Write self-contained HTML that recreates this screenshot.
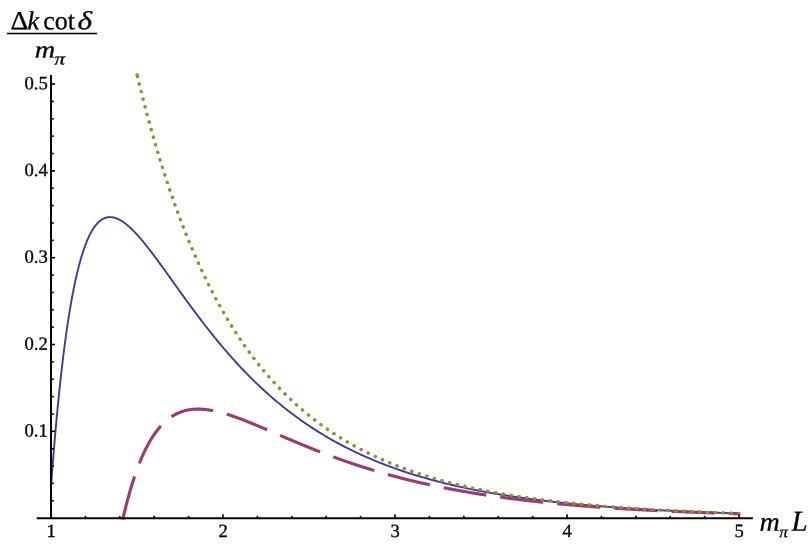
<!DOCTYPE html>
<html><head><meta charset="utf-8"><title>plot</title>
<style>
html,body{margin:0;padding:0;background:#fff;}
body{width:811px;height:545px;overflow:hidden;font-family:"Liberation Serif",serif;}
svg{display:block;will-change:transform}
svg text{font-family:"Liberation Serif",serif;fill:#000;text-rendering:geometricPrecision}
</style></head><body>
<svg width="811" height="545" viewBox="0 0 811 545">
<rect width="811" height="545" fill="#fff"/>
<defs><clipPath id="pc"><rect x="36" y="60" width="720" height="462"/></clipPath></defs>
<g clip-path="url(#pc)" fill="none">
<path d="M51.20,484.00 L51.46,480.52 L51.72,477.08 L51.98,473.68 L52.23,470.32 L52.49,466.99 L52.75,463.69 L53.01,460.43 L53.27,457.21 L53.53,454.02 L53.79,450.86 L54.05,447.74 L54.30,444.65 L54.56,441.60 L54.82,438.58 L55.08,435.59 L55.34,432.63 L55.60,429.71 L55.86,426.82 L56.11,423.95 L56.37,421.12 L56.63,418.32 L56.89,415.56 L57.15,412.82 L57.41,410.11 L57.67,407.43 L57.92,404.78 L58.18,402.15 L58.44,399.56 L58.70,397.00 L58.96,394.46 L59.22,391.95 L59.48,389.47 L59.74,387.02 L59.99,384.59 L60.25,382.19 L60.51,379.82 L60.77,377.47 L61.03,375.15 L61.29,372.86 L61.55,370.59 L61.80,368.34 L62.06,366.12 L62.32,363.93 L62.58,361.76 L62.84,359.62 L63.10,357.50 L63.36,355.40 L63.62,353.33 L63.87,351.28 L64.13,349.25 L64.39,347.25 L64.65,345.26 L64.91,343.31 L65.17,341.37 L65.43,339.46 L65.68,337.57 L65.94,335.70 L66.20,333.85 L66.46,332.02 L66.72,330.22 L66.98,328.43 L67.24,326.67 L67.49,324.93 L67.75,323.20 L68.01,321.50 L68.27,319.82 L68.53,318.16 L68.79,316.51 L69.05,314.89 L69.31,313.29 L69.56,311.70 L69.82,310.13 L70.08,308.59 L70.34,307.06 L70.60,305.55 L70.86,304.06 L71.12,302.58 L71.37,301.13 L71.63,299.69 L71.89,298.27 L72.15,296.87 L72.41,295.48 L72.67,294.11 L72.93,292.76 L73.18,291.43 L73.44,290.11 L73.70,288.81 L73.96,287.52 L74.22,286.25 L74.48,285.00 L74.74,283.76 L75.00,282.54 L75.25,281.34 L75.51,280.15 L75.77,278.97 L76.03,277.81 L76.29,276.67 L76.55,275.54 L76.81,274.42 L77.06,273.32 L77.32,272.24 L77.58,271.17 L77.84,270.11 L78.10,269.07 L78.36,268.04 L78.62,267.03 L78.88,266.02 L79.13,265.04 L79.39,264.06 L79.65,263.10 L79.91,262.16 L80.17,261.22 L80.43,260.30 L80.69,259.39 L80.94,258.50 L81.20,257.62 L81.46,256.75 L81.72,255.89 L81.98,255.04 L82.24,254.21 L82.50,253.39 L82.75,252.58 L83.01,251.79 L83.27,251.00 L83.53,250.23 L83.79,249.47 L84.05,248.72 L84.31,247.98 L84.57,247.25 L84.82,246.53 L85.08,245.83 L85.34,245.13 L85.60,244.45 L85.86,243.78 L86.12,243.11 L86.38,242.46 L86.63,241.82 L86.89,241.19 L87.15,240.57 L87.41,239.96 L87.67,239.36 L87.93,238.77 L88.19,238.19 L88.45,237.62 L88.70,237.06 L88.96,236.51 L89.22,235.97 L89.48,235.44 L89.74,234.91 L90.00,234.40 L90.26,233.90 L90.51,233.40 L90.77,232.92 L91.03,232.44 L91.29,231.97 L91.55,231.51 L91.81,231.06 L92.07,230.62 L92.32,230.19 L92.58,229.76 L92.84,229.35 L93.10,228.94 L93.36,228.54 L93.62,228.15 L93.88,227.77 L94.14,227.39 L94.39,227.02 L94.65,226.66 L94.91,226.31 L95.17,225.97 L95.43,225.63 L95.69,225.30 L95.95,224.98 L96.20,224.67 L96.46,224.36 L96.72,224.06 L96.98,223.77 L97.24,223.49 L97.50,223.21 L97.76,222.94 L98.02,222.68 L98.27,222.42 L98.53,222.17 L98.79,221.93 L99.05,221.69 L99.31,221.46 L99.57,221.24 L99.83,221.02 L100.08,220.81 L100.34,220.61 L100.60,220.41 L100.86,220.22 L101.12,220.04 L101.38,219.86 L101.64,219.69 L101.89,219.52 L102.15,219.36 L102.41,219.21 L102.67,219.06 L102.93,218.92 L103.19,218.78 L103.45,218.65 L103.71,218.52 L103.96,218.40 L104.22,218.29 L104.48,218.18 L104.74,218.08 L105.00,217.98 L105.26,217.89 L105.52,217.80 L105.77,217.72 L106.03,217.65 L106.29,217.57 L106.55,217.51 L106.81,217.45 L107.07,217.39 L107.33,217.34 L107.58,217.29 L107.84,217.25 L108.10,217.22 L108.36,217.18 L108.62,217.16 L108.88,217.14 L109.14,217.12 L109.40,217.10 L109.65,217.10 L109.91,217.09 L110.17,217.09 L110.43,217.10 L110.69,217.11 L110.95,217.12 L111.21,217.14 L111.46,217.16 L111.72,217.19 L111.98,217.22 L112.24,217.25 L112.50,217.29 L112.76,217.33 L113.02,217.38 L113.28,217.43 L113.53,217.49 L113.79,217.55 L114.05,217.61 L114.31,217.67 L114.57,217.74 L114.83,217.82 L115.09,217.90 L115.34,217.98 L115.60,218.06 L115.86,218.15 L116.12,218.24 L116.38,218.34 L116.64,218.44 L116.90,218.54 L117.15,218.64 L117.41,218.75 L117.67,218.87 L117.93,218.98 L118.19,219.10 L118.45,219.22 L118.71,219.35 L118.97,219.48 L119.22,219.61 L119.48,219.74 L119.74,219.88 L120.00,220.02 L120.26,220.17 L120.52,220.31 L120.78,220.46 L121.03,220.62 L121.29,220.77 L121.55,220.93 L121.81,221.09 L122.07,221.26 L122.33,221.42 L122.59,221.59 L122.85,221.77 L123.10,221.94 L123.36,222.12 L123.62,222.30 L123.88,222.48 L124.14,222.67 L124.40,222.86 L124.66,223.05 L124.91,223.24 L125.17,223.43 L125.43,223.63 L125.69,223.83 L125.95,224.04 L126.21,224.24 L126.47,224.45 L126.72,224.66 L126.98,224.87 L127.24,225.08 L127.50,225.30 L127.76,225.52 L128.02,225.74 L128.28,225.96 L128.54,226.19 L128.79,226.42 L129.05,226.65 L129.31,226.88 L129.57,227.11 L129.83,227.35 L130.09,227.58 L130.35,227.82 L130.60,228.06 L130.86,228.31 L131.12,228.55 L131.38,228.80 L131.64,229.05 L131.90,229.30 L132.16,229.55 L132.42,229.81 L132.67,230.06 L132.93,230.32 L133.19,230.58 L133.45,230.84 L133.71,231.11 L133.97,231.37 L134.23,231.64 L134.48,231.91 L134.74,232.17 L135.00,232.45 L135.26,232.72 L135.52,232.99 L135.78,233.27 L136.04,233.55 L136.29,233.83 L136.55,234.11 L136.81,234.39 L137.07,234.67 L137.33,234.96 L137.59,235.24 L137.85,235.53 L138.11,235.82 L138.36,236.11 L138.62,236.40 L138.88,236.69 L139.14,236.99 L139.40,237.28 L139.66,237.58 L139.92,237.88 L140.17,238.18 L140.43,238.48 L140.69,238.78 L140.95,239.08 L141.21,239.39 L141.47,239.69 L141.73,240.00 L141.98,240.31 L142.24,240.61 L142.50,240.92 L142.76,241.23 L143.02,241.55 L143.28,241.86 L143.54,242.17 L143.80,242.49 L144.05,242.80 L144.31,243.12 L144.57,243.44 L144.83,243.76 L145.09,244.08 L145.35,244.40 L145.61,244.72 L145.86,245.04 L146.12,245.37 L146.38,245.69 L146.64,246.02 L146.90,246.34 L147.16,246.67 L147.42,247.00 L147.68,247.33 L147.93,247.65 L148.19,247.98 L148.45,248.32 L148.71,248.65 L148.97,248.98 L149.23,249.31 L149.49,249.65 L149.74,249.98 L150.00,250.32 L150.26,250.65 L150.52,250.99 L150.78,251.33 L151.04,251.67 L151.30,252.00 L151.55,252.34 L151.81,252.68 L152.07,253.03 L152.33,253.37 L152.59,253.71 L152.85,254.05 L153.11,254.39 L153.37,254.74 L153.62,255.08 L153.88,255.43 L154.14,255.77 L154.40,256.12 L155.57,257.69 L156.74,259.27 L157.92,260.86 L159.09,262.46 L160.26,264.07 L161.43,265.68 L162.60,267.30 L163.78,268.93 L164.95,270.55 L166.12,272.18 L167.29,273.82 L168.46,275.46 L169.64,277.09 L170.81,278.73 L171.98,280.37 L173.15,282.01 L174.32,283.65 L175.49,285.29 L176.67,286.93 L177.84,288.57 L179.01,290.20 L180.18,291.83 L181.35,293.46 L182.53,295.09 L183.70,296.71 L184.87,298.33 L186.04,299.94 L187.21,301.55 L188.39,303.16 L189.56,304.76 L190.73,306.35 L191.90,307.94 L193.07,309.52 L194.25,311.10 L195.42,312.67 L196.59,314.23 L197.76,315.79 L198.93,317.34 L200.11,318.89 L201.28,320.43 L202.45,321.96 L203.62,323.48 L204.79,324.99 L205.97,326.50 L207.14,328.00 L208.31,329.49 L209.48,330.98 L210.65,332.45 L211.83,333.92 L213.00,335.38 L214.17,336.83 L215.34,338.27 L216.51,339.71 L217.68,341.13 L218.86,342.55 L220.03,343.96 L221.20,345.36 L222.37,346.75 L223.54,348.13 L224.72,349.50 L225.89,350.87 L227.06,352.22 L228.23,353.57 L229.40,354.90 L230.58,356.23 L231.75,357.55 L232.92,358.86 L234.09,360.16 L235.26,361.46 L236.44,362.74 L237.61,364.01 L238.78,365.28 L239.95,366.54 L241.12,367.78 L242.30,369.02 L243.47,370.25 L244.64,371.47 L245.81,372.69 L246.98,373.89 L248.16,375.08 L249.33,376.27 L250.50,377.44 L251.67,378.61 L252.84,379.77 L254.02,380.92 L255.19,382.06 L256.36,383.19 L257.53,384.32 L258.70,385.43 L259.87,386.54 L261.05,387.64 L262.22,388.73 L263.39,389.81 L264.56,390.88 L265.73,391.95 L266.91,393.00 L268.08,394.05 L269.25,395.09 L270.42,396.12 L271.59,397.14 L272.77,398.16 L273.94,399.16 L275.11,400.16 L276.28,401.15 L277.45,402.14 L278.63,403.11 L279.80,404.08 L280.97,405.04 L282.14,405.99 L283.31,406.93 L284.49,407.87 L285.66,408.80 L286.83,409.72 L288.00,410.63 L289.17,411.53 L290.35,412.43 L291.52,413.32 L292.69,414.21 L293.86,415.08 L295.03,415.95 L296.21,416.81 L297.38,417.67 L298.55,418.51 L299.72,419.35 L300.89,420.19 L302.06,421.01 L303.24,421.83 L304.41,422.65 L305.58,423.45 L306.75,424.25 L307.92,425.04 L309.10,425.83 L310.27,426.61 L311.44,427.38 L312.61,428.15 L313.78,428.91 L314.96,429.66 L316.13,430.41 L317.30,431.15 L318.47,431.88 L319.64,432.61 L320.82,433.33 L321.99,434.05 L323.16,434.76 L324.33,435.46 L325.50,436.16 L326.68,436.85 L327.85,437.53 L329.02,438.21 L330.19,438.89 L331.36,439.56 L332.54,440.22 L333.71,440.88 L334.88,441.53 L336.05,442.17 L337.22,442.82 L338.40,443.45 L339.57,444.08 L340.74,444.70 L341.91,445.32 L343.08,445.94 L344.25,446.54 L345.43,447.15 L346.60,447.75 L347.77,448.34 L348.94,448.93 L350.11,449.51 L351.29,450.09 L352.46,450.66 L353.63,451.23 L354.80,451.79 L355.97,452.35 L357.15,452.90 L358.32,453.45 L359.49,453.99 L360.66,454.53 L361.83,455.07 L363.01,455.60 L364.18,456.12 L365.35,456.64 L366.52,457.16 L367.69,457.67 L368.87,458.18 L370.04,458.68 L371.21,459.18 L372.38,459.67 L373.55,460.17 L374.73,460.65 L375.90,461.13 L377.07,461.61 L378.24,462.08 L379.41,462.55 L380.59,463.02 L381.76,463.48 L382.93,463.94 L384.10,464.39 L385.27,464.84 L386.44,465.29 L387.62,465.73 L388.79,466.17 L389.96,466.60 L391.13,467.03 L392.30,467.46 L393.48,467.88 L394.65,468.30 L395.82,468.72 L396.99,469.13 L398.16,469.54 L399.34,469.95 L400.51,470.35 L401.68,470.75 L402.85,471.14 L404.02,471.53 L405.20,471.92 L406.37,472.31 L407.54,472.69 L408.71,473.07 L409.88,473.44 L411.06,473.81 L412.23,474.18 L413.40,474.55 L414.57,474.91 L415.74,475.27 L416.92,475.62 L418.09,475.98 L419.26,476.33 L420.43,476.68 L421.60,477.02 L422.78,477.36 L423.95,477.70 L425.12,478.03 L426.29,478.37 L427.46,478.70 L428.63,479.02 L429.81,479.35 L430.98,479.67 L432.15,479.99 L433.32,480.30 L434.49,480.62 L435.67,480.93 L436.84,481.23 L438.01,481.54 L439.18,481.84 L440.35,482.14 L441.53,482.44 L442.70,482.73 L443.87,483.03 L445.04,483.32 L446.21,483.60 L447.39,483.89 L448.56,484.17 L449.73,484.45 L450.90,484.73 L452.07,485.00 L453.25,485.28 L454.42,485.55 L455.59,485.81 L456.76,486.08 L457.93,486.34 L459.11,486.61 L460.28,486.87 L461.45,487.12 L462.62,487.38 L463.79,487.63 L464.97,487.88 L466.14,488.13 L467.31,488.38 L468.48,488.62 L469.65,488.86 L470.82,489.10 L472.00,489.34 L473.17,489.58 L474.34,489.81 L475.51,490.04 L476.68,490.27 L477.86,490.50 L479.03,490.73 L480.20,490.95 L481.37,491.17 L482.54,491.39 L483.72,491.61 L484.89,491.83 L486.06,492.04 L487.23,492.26 L488.40,492.47 L489.58,492.68 L490.75,492.89 L491.92,493.09 L493.09,493.30 L494.26,493.50 L495.44,493.70 L496.61,493.90 L497.78,494.10 L498.95,494.29 L500.12,494.49 L501.30,494.68 L502.47,494.87 L503.64,495.06 L504.81,495.25 L505.98,495.43 L507.16,495.62 L508.33,495.80 L509.50,495.98 L510.67,496.16 L511.84,496.34 L513.01,496.52 L514.19,496.69 L515.36,496.86 L516.53,497.04 L517.70,497.21 L518.87,497.38 L520.05,497.55 L521.22,497.71 L522.39,497.88 L523.56,498.04 L524.73,498.20 L525.91,498.37 L527.08,498.53 L528.25,498.68 L529.42,498.84 L530.59,499.00 L531.77,499.15 L532.94,499.31 L534.11,499.46 L535.28,499.61 L536.45,499.76 L537.63,499.91 L538.80,500.05 L539.97,500.20 L541.14,500.34 L542.31,500.49 L543.49,500.63 L544.66,500.77 L545.83,500.91 L547.00,501.05 L548.17,501.19 L549.35,501.32 L550.52,501.46 L551.69,501.59 L552.86,501.72 L554.03,501.86 L555.20,501.99 L556.38,502.12 L557.55,502.24 L558.72,502.37 L559.89,502.50 L561.06,502.62 L562.24,502.75 L563.41,502.87 L564.58,502.99 L565.75,503.12 L566.92,503.24 L568.10,503.36 L569.27,503.47 L570.44,503.59 L571.61,503.71 L572.78,503.82 L573.96,503.94 L575.13,504.05 L576.30,504.16 L577.47,504.27 L578.64,504.39 L579.82,504.50 L580.99,504.60 L582.16,504.71 L583.33,504.82 L584.50,504.93 L585.68,505.03 L586.85,505.14 L588.02,505.24 L589.19,505.34 L590.36,505.44 L591.54,505.54 L592.71,505.64 L593.88,505.74 L595.05,505.84 L596.22,505.94 L597.39,506.04 L598.57,506.13 L599.74,506.23 L600.91,506.32 L602.08,506.42 L603.25,506.51 L604.43,506.60 L605.60,506.69 L606.77,506.78 L607.94,506.87 L609.11,506.96 L610.29,507.05 L611.46,507.14 L612.63,507.23 L613.80,507.31 L614.97,507.40 L616.15,507.48 L617.32,507.57 L618.49,507.65 L619.66,507.74 L620.83,507.82 L622.01,507.90 L623.18,507.98 L624.35,508.06 L625.52,508.14 L626.69,508.22 L627.87,508.30 L629.04,508.37 L630.21,508.45 L631.38,508.53 L632.55,508.60 L633.73,508.68 L634.90,508.75 L636.07,508.83 L637.24,508.90 L638.41,508.97 L639.58,509.05 L640.76,509.12 L641.93,509.19 L643.10,509.26 L644.27,509.33 L645.44,509.40 L646.62,509.47 L647.79,509.53 L648.96,509.60 L650.13,509.67 L651.30,509.74 L652.48,509.80 L653.65,509.87 L654.82,509.93 L655.99,510.00 L657.16,510.06 L658.34,510.12 L659.51,510.19 L660.68,510.25 L661.85,510.31 L663.02,510.37 L664.20,510.43 L665.37,510.49 L666.54,510.55 L667.71,510.61 L668.88,510.67 L670.06,510.73 L671.23,510.79 L672.40,510.84 L673.57,510.90 L674.74,510.96 L675.92,511.01 L677.09,511.07 L678.26,511.12 L679.43,511.18 L680.60,511.23 L681.77,511.29 L682.95,511.34 L684.12,511.39 L685.29,511.45 L686.46,511.50 L687.63,511.55 L688.81,511.60 L689.98,511.65 L691.15,511.70 L692.32,511.75 L693.49,511.80 L694.67,511.85 L695.84,511.90 L697.01,511.95 L698.18,512.00 L699.35,512.04 L700.53,512.09 L701.70,512.14 L702.87,512.19 L704.04,512.23 L705.21,512.28 L706.39,512.32 L707.56,512.37 L708.73,512.41 L709.90,512.46 L711.07,512.50 L712.25,512.54 L713.42,512.59 L714.59,512.63 L715.76,512.67 L716.93,512.72 L718.11,512.76 L719.28,512.80 L720.45,512.84 L721.62,512.88 L722.79,512.92 L723.96,512.96 L725.14,513.00 L726.31,513.04 L727.48,513.08 L728.65,513.12 L729.82,513.16 L731.00,513.20 L732.17,513.24 L733.34,513.27 L734.51,513.31 L735.68,513.35 L736.86,513.38 L738.03,513.42 L739.20,513.46" stroke="#3d3d99" stroke-width="1.9" stroke-linejoin="round"/>
<path d="M122.72,519.66 L123.74,515.21 L124.77,510.91 L125.80,506.75 L126.83,502.72 L127.86,498.83 L128.89,495.07 L129.92,491.43 L130.95,487.92 L131.98,484.52 L133.01,481.24 L134.04,478.07 L135.07,475.01 L136.09,472.06 L137.12,469.20 L138.15,466.45 L139.18,463.80 L140.21,461.23 L141.24,458.76 L142.27,456.38 L143.30,454.08 L144.33,451.87 L145.36,449.74 L146.39,447.68 L147.42,445.70 L148.44,443.80 L149.47,441.97 L150.50,440.21 L151.53,438.52 L152.56,436.89 L153.59,435.33 L154.62,433.83 L155.65,432.39 L156.68,431.01 L157.71,429.69 L158.74,428.42 L159.77,427.20 L160.80,426.04 L161.82,424.93 L162.85,423.87 L163.88,422.86 L164.91,421.89 L165.94,420.97 L166.97,420.10 L168.00,419.26 L169.03,418.47 L170.06,417.72 L171.09,417.01 L172.12,416.33 L173.15,415.70 L174.17,415.09 L175.20,414.53 L176.23,413.99 L177.26,413.49 L178.29,413.03 L179.32,412.59 L180.35,412.18 L181.38,411.80 L182.41,411.45 L183.44,411.13 L184.47,410.84 L185.50,410.57 L186.52,410.32 L187.55,410.10 L188.58,409.91 L189.61,409.73 L190.64,409.58 L191.67,409.45 L192.70,409.35 L193.73,409.26 L194.76,409.19 L195.79,409.14 L196.82,409.11 L197.85,409.10 L198.88,409.10 L199.90,409.12 L200.93,409.16 L201.96,409.22 L202.99,409.29 L204.02,409.37 L205.05,409.47 L206.08,409.58 L207.11,409.71 L208.14,409.85 L209.17,410.00 L210.20,410.16 L211.23,410.34 L212.25,410.53 L213.28,410.72 L214.31,410.93 L215.34,411.15 L216.37,411.38 L217.40,411.62 L218.43,411.87 L219.46,412.13 L220.49,412.39 L221.52,412.67 L222.55,412.95 L223.58,413.24 L224.60,413.54 L225.63,413.85 L226.66,414.16 L227.69,414.48 L228.72,414.81 L229.75,415.14 L230.78,415.48 L231.81,415.82 L232.84,416.17 L233.87,416.52 L234.90,416.88 L235.93,417.25 L236.96,417.62 L237.98,417.99 L239.01,418.37 L240.04,418.75 L241.07,419.14 L242.10,419.53 L243.13,419.93 L244.16,420.32 L245.19,420.72 L246.22,421.13 L247.25,421.53 L248.28,421.94 L249.31,422.36 L250.33,422.77 L251.36,423.19 L252.39,423.61 L253.42,424.03 L254.45,424.45 L255.48,424.88 L256.51,425.31 L257.54,425.74 L258.57,426.17 L259.60,426.60 L260.63,427.03 L261.66,427.47 L262.68,427.90 L263.71,428.34 L264.74,428.78 L265.77,429.21 L266.80,429.65 L267.83,430.09 L268.86,430.53 L269.89,430.98 L270.92,431.42 L271.95,431.86 L272.98,432.30 L274.01,432.74 L275.04,433.18 L276.06,433.63 L277.09,434.07 L278.12,434.51 L279.15,434.95 L280.18,435.39 L281.21,435.83 L282.24,436.28 L283.27,436.72 L284.30,437.16 L285.33,437.60 L286.36,438.03 L287.39,438.47 L288.41,438.91 L289.44,439.35 L290.47,439.78 L291.50,440.22 L292.53,440.65 L293.56,441.09 L294.59,441.52 L295.62,441.95 L296.65,442.38 L297.68,442.81 L298.71,443.24 L299.74,443.67 L300.76,444.10 L301.79,444.52 L302.82,444.95 L303.85,445.37 L304.88,445.79 L305.91,446.21 L306.94,446.63 L307.97,447.05 L309.00,447.47 L310.03,447.88 L311.06,448.30 L312.09,448.71 L313.12,449.12 L314.14,449.53 L315.17,449.94 L316.20,450.34 L317.23,450.75 L318.26,451.15 L319.29,451.55 L320.32,451.95 L321.35,452.35 L322.38,452.75 L323.41,453.15 L324.44,453.54 L325.47,453.93 L326.49,454.32 L327.52,454.71 L328.55,455.10 L329.58,455.49 L330.61,455.87 L331.64,456.25 L332.67,456.63 L333.70,457.01 L334.73,457.39 L335.76,457.77 L336.79,458.14 L337.82,458.51 L338.85,458.88 L339.87,459.25 L340.90,459.62 L341.93,459.98 L342.96,460.35 L343.99,460.71 L345.02,461.07 L346.05,461.43 L347.08,461.78 L348.11,462.14 L349.14,462.49 L350.17,462.84 L351.20,463.19 L352.22,463.54 L353.25,463.88 L354.28,464.23 L355.31,464.57 L356.34,464.91 L357.37,465.25 L358.40,465.58 L359.43,465.92 L360.46,466.25 L361.49,466.58 L362.52,466.91 L363.55,467.24 L364.57,467.57 L365.60,467.89 L366.63,468.21 L367.66,468.53 L368.69,468.85 L369.72,469.17 L370.75,469.49 L371.78,469.80 L372.81,470.11 L373.84,470.42 L374.87,470.73 L375.90,471.04 L376.93,471.34 L377.95,471.65 L378.98,471.95 L380.01,472.25 L381.04,472.55 L382.07,472.84 L383.10,473.14 L384.13,473.43 L385.16,473.72 L386.19,474.01 L387.22,474.30 L388.25,474.58 L389.28,474.87 L390.30,475.15 L391.33,475.43 L392.36,475.71 L393.39,475.99 L394.42,476.27 L395.45,476.54 L396.48,476.81 L397.51,477.08 L398.54,477.35 L399.57,477.62 L400.60,477.89 L401.63,478.15 L402.65,478.42 L403.68,478.68 L404.71,478.94 L405.74,479.20 L406.77,479.45 L407.80,479.71 L408.83,479.96 L409.86,480.22 L410.89,480.47 L411.92,480.71 L412.95,480.96 L413.98,481.21 L415.01,481.45 L416.03,481.70 L417.06,481.94 L418.09,482.18 L419.12,482.42 L420.15,482.65 L421.18,482.89 L422.21,483.12 L423.24,483.35 L424.27,483.59 L425.30,483.82 L426.33,484.04 L427.36,484.27 L428.38,484.50 L429.41,484.72 L430.44,484.94 L431.47,485.16 L432.50,485.38 L433.53,485.60 L434.56,485.82 L435.59,486.03 L436.62,486.25 L437.65,486.46 L438.68,486.67 L439.71,486.88 L440.73,487.09 L441.76,487.30 L442.79,487.50 L443.82,487.71 L444.85,487.91 L445.88,488.11 L446.91,488.32 L447.94,488.52 L448.97,488.71 L450.00,488.91 L451.03,489.11 L452.06,489.30 L453.09,489.49 L454.11,489.69 L455.14,489.88 L456.17,490.07 L457.20,490.25 L458.23,490.44 L459.26,490.63 L460.29,490.81 L461.32,490.99 L462.35,491.18 L463.38,491.36 L464.41,491.54 L465.44,491.72 L466.46,491.89 L467.49,492.07 L468.52,492.24 L469.55,492.42 L470.58,492.59 L471.61,492.76 L472.64,492.93 L473.67,493.10 L474.70,493.27 L475.73,493.44 L476.76,493.60 L477.79,493.77 L478.81,493.93 L479.84,494.10 L480.87,494.26 L481.90,494.42 L482.93,494.58 L483.96,494.74 L484.99,494.89 L486.02,495.05 L487.05,495.21 L488.08,495.36 L489.11,495.51 L490.14,495.67 L491.17,495.82 L492.19,495.97 L493.22,496.12 L494.25,496.27 L495.28,496.41 L496.31,496.56 L497.34,496.70 L498.37,496.85 L499.40,496.99 L500.43,497.13 L501.46,497.28 L502.49,497.42 L503.52,497.56 L504.54,497.70 L505.57,497.83 L506.60,497.97 L507.63,498.11 L508.66,498.24 L509.69,498.38 L510.72,498.51 L511.75,498.64 L512.78,498.77 L513.81,498.90 L514.84,499.03 L515.87,499.16 L516.89,499.29 L517.92,499.42 L518.95,499.54 L519.98,499.67 L521.01,499.79 L522.04,499.92 L523.07,500.04 L524.10,500.16 L525.13,500.28 L526.16,500.40 L527.19,500.52 L528.22,500.64 L529.25,500.76 L530.27,500.88 L531.30,500.99 L532.33,501.11 L533.36,501.22 L534.39,501.34 L535.42,501.45 L536.45,501.56 L537.48,501.68 L538.51,501.79 L539.54,501.90 L540.57,502.01 L541.60,502.11 L542.62,502.22 L543.65,502.33 L544.68,502.44 L545.71,502.54 L546.74,502.65 L547.77,502.75 L548.80,502.86 L549.83,502.96 L550.86,503.06 L551.89,503.16 L552.92,503.26 L553.95,503.36 L554.97,503.46 L556.00,503.56 L557.03,503.66 L558.06,503.76 L559.09,503.86 L560.12,503.95 L561.15,504.05 L562.18,504.14 L563.21,504.24 L564.24,504.33 L565.27,504.42 L566.30,504.52 L567.33,504.61 L568.35,504.70 L569.38,504.79 L570.41,504.88 L571.44,504.97 L572.47,505.06 L573.50,505.15 L574.53,505.23 L575.56,505.32 L576.59,505.41 L577.62,505.49 L578.65,505.58 L579.68,505.66 L580.70,505.75 L581.73,505.83 L582.76,505.91 L583.79,505.99 L584.82,506.08 L585.85,506.16 L586.88,506.24 L587.91,506.32 L588.94,506.40 L589.97,506.48 L591.00,506.56 L592.03,506.63 L593.05,506.71 L594.08,506.79 L595.11,506.86 L596.14,506.94 L597.17,507.02 L598.20,507.09 L599.23,507.16 L600.26,507.24 L601.29,507.31 L602.32,507.38 L603.35,507.46 L604.38,507.53 L605.41,507.60 L606.43,507.67 L607.46,507.74 L608.49,507.81 L609.52,507.88 L610.55,507.95 L611.58,508.02 L612.61,508.09 L613.64,508.15 L614.67,508.22 L615.70,508.29 L616.73,508.35 L617.76,508.42 L618.78,508.48 L619.81,508.55 L620.84,508.61 L621.87,508.68 L622.90,508.74 L623.93,508.80 L624.96,508.87 L625.99,508.93 L627.02,508.99 L628.05,509.05 L629.08,509.11 L630.11,509.17 L631.14,509.23 L632.16,509.29 L633.19,509.35 L634.22,509.41 L635.25,509.47 L636.28,509.53 L637.31,509.59 L638.34,509.64 L639.37,509.70 L640.40,509.76 L641.43,509.81 L642.46,509.87 L643.49,509.92 L644.51,509.98 L645.54,510.03 L646.57,510.09 L647.60,510.14 L648.63,510.19 L649.66,510.25 L650.69,510.30 L651.72,510.35 L652.75,510.41 L653.78,510.46 L654.81,510.51 L655.84,510.56 L656.86,510.61 L657.89,510.66 L658.92,510.71 L659.95,510.76 L660.98,510.81 L662.01,510.86 L663.04,510.91 L664.07,510.96 L665.10,511.00 L666.13,511.05 L667.16,511.10 L668.19,511.15 L669.22,511.19 L670.24,511.24 L671.27,511.28 L672.30,511.33 L673.33,511.38 L674.36,511.42 L675.39,511.47 L676.42,511.51 L677.45,511.55 L678.48,511.60 L679.51,511.64 L680.54,511.69 L681.57,511.73 L682.59,511.77 L683.62,511.81 L684.65,511.86 L685.68,511.90 L686.71,511.94 L687.74,511.98 L688.77,512.02 L689.80,512.06 L690.83,512.10 L691.86,512.14 L692.89,512.18 L693.92,512.22 L694.94,512.26 L695.97,512.30 L697.00,512.34 L698.03,512.38 L699.06,512.42 L700.09,512.45 L701.12,512.49 L702.15,512.53 L703.18,512.57 L704.21,512.60 L705.24,512.64 L706.27,512.68 L707.30,512.71 L708.32,512.75 L709.35,512.79 L710.38,512.82 L711.41,512.86 L712.44,512.89 L713.47,512.93 L714.50,512.96 L715.53,513.00 L716.56,513.03 L717.59,513.06 L718.62,513.10 L719.65,513.13 L720.67,513.16 L721.70,513.20 L722.73,513.23 L723.76,513.26 L724.79,513.29 L725.82,513.33 L726.85,513.36 L727.88,513.39 L728.91,513.42 L729.94,513.45 L730.97,513.48 L732.00,513.51 L733.02,513.55 L734.05,513.58 L735.08,513.61 L736.11,513.64 L737.14,513.67 L738.17,513.70 L739.20,513.72" stroke="#993d71" stroke-width="3.1" stroke-dasharray="44.7 14.08 43.3 14.08 43.3 14.08 43.3 14.08 43.3 14.08 43.3 14.08 43.3 14.08 43.3 14.08 43.3 14.08 43.3 14.08 43.3 14.08 43.3 14.08 43.3 14.08 43.3 14.08" stroke-linejoin="round"/>
<path d="M136.72,73.45 L137.92,78.47 L139.13,83.43 L140.34,88.32 L141.54,93.15 L142.75,97.92 L143.96,102.62 L145.17,107.26 L146.37,111.84 L147.58,116.37 L148.79,120.83 L150.00,125.24 L151.20,129.59 L152.41,133.88 L153.62,138.12 L154.83,142.31 L156.03,146.44 L157.24,150.52 L158.45,154.54 L159.66,158.52 L160.86,162.45 L162.07,166.33 L163.28,170.16 L164.49,173.94 L165.69,177.67 L166.90,181.36 L168.11,185.00 L169.31,188.60 L170.52,192.15 L171.73,195.66 L172.94,199.12 L174.14,202.54 L175.35,205.92 L176.56,209.26 L177.77,212.56 L178.97,215.82 L180.18,219.04 L181.39,222.22 L182.60,225.36 L183.80,228.46 L185.01,231.53 L186.22,234.56 L187.43,237.55 L188.63,240.50 L189.84,243.43 L191.05,246.31 L192.26,249.16 L193.46,251.98 L194.67,254.77 L195.88,257.52 L197.08,260.24 L198.29,262.93 L199.50,265.58 L200.71,268.21 L201.91,270.80 L203.12,273.36 L204.33,275.90 L205.54,278.40 L206.74,280.87 L207.95,283.32 L209.16,285.74 L210.37,288.13 L211.57,290.49 L212.78,292.82 L213.99,295.13 L215.20,297.41 L216.40,299.67 L217.61,301.90 L218.82,304.10 L220.02,306.28 L221.23,308.43 L222.44,310.56 L223.65,312.67 L224.85,314.75 L226.06,316.81 L227.27,318.84 L228.48,320.86 L229.68,322.84 L230.89,324.81 L232.10,326.76 L233.31,328.68 L234.51,330.58 L235.72,332.46 L236.93,334.32 L238.14,336.16 L239.34,337.98 L240.55,339.77 L241.76,341.55 L242.97,343.31 L244.17,345.05 L245.38,346.77 L246.59,348.47 L247.79,350.15 L249.00,351.81 L250.21,353.46 L251.42,355.09 L252.62,356.70 L253.83,358.29 L255.04,359.86 L256.25,361.42 L257.45,362.96 L258.66,364.49 L259.87,365.99 L261.08,367.48 L262.28,368.96 L263.49,370.42 L264.70,371.86 L265.91,373.29 L267.11,374.70 L268.32,376.10 L269.53,377.48 L270.73,378.85 L271.94,380.20 L273.15,381.54 L274.36,382.86 L275.56,384.17 L276.77,385.47 L277.98,386.75 L279.19,388.02 L280.39,389.28 L281.60,390.52 L282.81,391.75 L284.02,392.97 L285.22,394.17 L286.43,395.36 L287.64,396.54 L288.85,397.70 L290.05,398.86 L291.26,400.00 L292.47,401.13 L293.68,402.25 L294.88,403.35 L296.09,404.45 L297.30,405.53 L298.50,406.60 L299.71,407.66 L300.92,408.71 L302.13,409.75 L303.33,410.78 L304.54,411.80 L305.75,412.80 L306.96,413.80 L308.16,414.79 L309.37,415.76 L310.58,416.73 L311.79,417.69 L312.99,418.63 L314.20,419.57 L315.41,420.50 L316.62,421.41 L317.82,422.32 L319.03,423.22 L320.24,424.11 L321.45,424.99 L322.65,425.87 L323.86,426.73 L325.07,427.58 L326.27,428.43 L327.48,429.27 L328.69,430.09 L329.90,430.92 L331.10,431.73 L332.31,432.53 L333.52,433.33 L334.73,434.12 L335.93,434.90 L337.14,435.67 L338.35,436.43 L339.56,437.19 L340.76,437.94 L341.97,438.68 L343.18,439.41 L344.39,440.14 L345.59,440.86 L346.80,441.57 L348.01,442.28 L349.21,442.98 L350.42,443.67 L351.63,444.35 L352.84,445.03 L354.04,445.70 L355.25,446.37 L356.46,447.03 L357.67,447.68 L358.87,448.32 L360.08,448.96 L361.29,449.59 L362.50,450.22 L363.70,450.84 L364.91,451.46 L366.12,452.06 L367.33,452.67 L368.53,453.26 L369.74,453.85 L370.95,454.44 L372.16,455.02 L373.36,455.59 L374.57,456.16 L375.78,456.72 L376.98,457.28 L378.19,457.83 L379.40,458.37 L380.61,458.91 L381.81,459.45 L383.02,459.98 L384.23,460.51 L385.44,461.03 L386.64,461.54 L387.85,462.05 L389.06,462.56 L390.27,463.06 L391.47,463.55 L392.68,464.04 L393.89,464.53 L395.10,465.01 L396.30,465.49 L397.51,465.96 L398.72,466.43 L399.93,466.89 L401.13,467.35 L402.34,467.80 L403.55,468.25 L404.75,468.70 L405.96,469.14 L407.17,469.58 L408.38,470.01 L409.58,470.44 L410.79,470.87 L412.00,471.29 L413.21,471.70 L414.41,472.12 L415.62,472.53 L416.83,472.93 L418.04,473.33 L419.24,473.73 L420.45,474.12 L421.66,474.51 L422.87,474.90 L424.07,475.28 L425.28,475.66 L426.49,476.04 L427.69,476.41 L428.90,476.78 L430.11,477.14 L431.32,477.51 L432.52,477.86 L433.73,478.22 L434.94,478.57 L436.15,478.92 L437.35,479.27 L438.56,479.61 L439.77,479.95 L440.98,480.28 L442.18,480.61 L443.39,480.94 L444.60,481.27 L445.81,481.59 L447.01,481.91 L448.22,482.23 L449.43,482.55 L450.64,482.86 L451.84,483.17 L453.05,483.47 L454.26,483.77 L455.46,484.07 L456.67,484.37 L457.88,484.67 L459.09,484.96 L460.29,485.25 L461.50,485.53 L462.71,485.82 L463.92,486.10 L465.12,486.38 L466.33,486.65 L467.54,486.93 L468.75,487.20 L469.95,487.47 L471.16,487.73 L472.37,488.00 L473.58,488.26 L474.78,488.52 L475.99,488.77 L477.20,489.03 L478.41,489.28 L479.61,489.53 L480.82,489.78 L482.03,490.02 L483.23,490.26 L484.44,490.50 L485.65,490.74 L486.86,490.98 L488.06,491.21 L489.27,491.45 L490.48,491.67 L491.69,491.90 L492.89,492.13 L494.10,492.35 L495.31,492.57 L496.52,492.79 L497.72,493.01 L498.93,493.23 L500.14,493.44 L501.35,493.65 L502.55,493.86 L503.76,494.07 L504.97,494.28 L506.17,494.48 L507.38,494.68 L508.59,494.88 L509.80,495.08 L511.00,495.28 L512.21,495.47 L513.42,495.67 L514.63,495.86 L515.83,496.05 L517.04,496.24 L518.25,496.42 L519.46,496.61 L520.66,496.79 L521.87,496.97 L523.08,497.15 L524.29,497.33 L525.49,497.51 L526.70,497.69 L527.91,497.86 L529.12,498.03 L530.32,498.20 L531.53,498.37 L532.74,498.54 L533.94,498.71 L535.15,498.87 L536.36,499.03 L537.57,499.19 L538.77,499.35 L539.98,499.51 L541.19,499.67 L542.40,499.83 L543.60,499.98 L544.81,500.14 L546.02,500.29 L547.23,500.44 L548.43,500.59 L549.64,500.74 L550.85,500.88 L552.06,501.03 L553.26,501.17 L554.47,501.31 L555.68,501.46 L556.89,501.60 L558.09,501.74 L559.30,501.87 L560.51,502.01 L561.71,502.15 L562.92,502.28 L564.13,502.41 L565.34,502.54 L566.54,502.68 L567.75,502.80 L568.96,502.93 L570.17,503.06 L571.37,503.19 L572.58,503.31 L573.79,503.44 L575.00,503.56 L576.20,503.68 L577.41,503.80 L578.62,503.92 L579.83,504.04 L581.03,504.16 L582.24,504.27 L583.45,504.39 L584.65,504.50 L585.86,504.62 L587.07,504.73 L588.28,504.84 L589.48,504.95 L590.69,505.06 L591.90,505.17 L593.11,505.28 L594.31,505.39 L595.52,505.49 L596.73,505.60 L597.94,505.70 L599.14,505.81 L600.35,505.91 L601.56,506.01 L602.77,506.11 L603.97,506.21 L605.18,506.31 L606.39,506.41 L607.60,506.50 L608.80,506.60 L610.01,506.70 L611.22,506.79 L612.42,506.88 L613.63,506.98 L614.84,507.07 L616.05,507.16 L617.25,507.25 L618.46,507.34 L619.67,507.43 L620.88,507.52 L622.08,507.61 L623.29,507.69 L624.50,507.78 L625.71,507.86 L626.91,507.95 L628.12,508.03 L629.33,508.12 L630.54,508.20 L631.74,508.28 L632.95,508.36 L634.16,508.44 L635.36,508.52 L636.57,508.60 L637.78,508.68 L638.99,508.76 L640.19,508.83 L641.40,508.91 L642.61,508.98 L643.82,509.06 L645.02,509.13 L646.23,509.21 L647.44,509.28 L648.65,509.35 L649.85,509.43 L651.06,509.50 L652.27,509.57 L653.48,509.64 L654.68,509.71 L655.89,509.78 L657.10,509.84 L658.31,509.91 L659.51,509.98 L660.72,510.05 L661.93,510.11 L663.13,510.18 L664.34,510.24 L665.55,510.31 L666.76,510.37 L667.96,510.43 L669.17,510.50 L670.38,510.56 L671.59,510.62 L672.79,510.68 L674.00,510.74 L675.21,510.80 L676.42,510.86 L677.62,510.92 L678.83,510.98 L680.04,511.04 L681.25,511.09 L682.45,511.15 L683.66,511.21 L684.87,511.26 L686.08,511.32 L687.28,511.38 L688.49,511.43 L689.70,511.48 L690.90,511.54 L692.11,511.59 L693.32,511.64 L694.53,511.70 L695.73,511.75 L696.94,511.80 L698.15,511.85 L699.36,511.90 L700.56,511.95 L701.77,512.00 L702.98,512.05 L704.19,512.10 L705.39,512.15 L706.60,512.20 L707.81,512.25 L709.02,512.29 L710.22,512.34 L711.43,512.39 L712.64,512.43 L713.84,512.48 L715.05,512.53 L716.26,512.57 L717.47,512.61 L718.67,512.66 L719.88,512.70 L721.09,512.75 L722.30,512.79 L723.50,512.83 L724.71,512.88 L725.92,512.92 L727.13,512.96 L728.33,513.00 L729.54,513.04 L730.75,513.08 L731.96,513.12 L733.16,513.16 L734.37,513.20 L735.58,513.24 L736.79,513.28 L737.99,513.32 L739.20,513.36" stroke="#998b3d" stroke-width="2.7" stroke-dasharray="3.0 4.882" stroke-dashoffset="6.51" stroke-linejoin="round"/>
<path d="M136.72,73.45 L137.92,78.47 L139.13,83.43 L140.34,88.32 L141.54,93.15 L142.75,97.92 L143.96,102.62 L145.17,107.26 L146.37,111.84 L147.58,116.37 L148.79,120.83 L150.00,125.24 L151.20,129.59 L152.41,133.88 L153.62,138.12 L154.83,142.31 L156.03,146.44 L157.24,150.52 L158.45,154.54 L159.66,158.52 L160.86,162.45 L162.07,166.33 L163.28,170.16 L164.49,173.94 L165.69,177.67 L166.90,181.36 L168.11,185.00 L169.31,188.60 L170.52,192.15 L171.73,195.66 L172.94,199.12 L174.14,202.54 L175.35,205.92 L176.56,209.26 L177.77,212.56 L178.97,215.82 L180.18,219.04 L181.39,222.22 L182.60,225.36 L183.80,228.46 L185.01,231.53 L186.22,234.56 L187.43,237.55 L188.63,240.50 L189.84,243.43 L191.05,246.31 L192.26,249.16 L193.46,251.98 L194.67,254.77 L195.88,257.52 L197.08,260.24 L198.29,262.93 L199.50,265.58 L200.71,268.21 L201.91,270.80 L203.12,273.36 L204.33,275.90 L205.54,278.40 L206.74,280.87 L207.95,283.32 L209.16,285.74 L210.37,288.13 L211.57,290.49 L212.78,292.82 L213.99,295.13 L215.20,297.41 L216.40,299.67 L217.61,301.90 L218.82,304.10 L220.02,306.28 L221.23,308.43 L222.44,310.56 L223.65,312.67 L224.85,314.75 L226.06,316.81 L227.27,318.84 L228.48,320.86 L229.68,322.84 L230.89,324.81 L232.10,326.76 L233.31,328.68 L234.51,330.58 L235.72,332.46 L236.93,334.32 L238.14,336.16 L239.34,337.98 L240.55,339.77 L241.76,341.55 L242.97,343.31 L244.17,345.05 L245.38,346.77 L246.59,348.47 L247.79,350.15 L249.00,351.81 L250.21,353.46 L251.42,355.09 L252.62,356.70 L253.83,358.29 L255.04,359.86 L256.25,361.42 L257.45,362.96 L258.66,364.49 L259.87,365.99 L261.08,367.48 L262.28,368.96 L263.49,370.42 L264.70,371.86 L265.91,373.29 L267.11,374.70 L268.32,376.10 L269.53,377.48 L270.73,378.85 L271.94,380.20 L273.15,381.54 L274.36,382.86 L275.56,384.17 L276.77,385.47 L277.98,386.75 L279.19,388.02 L280.39,389.28 L281.60,390.52 L282.81,391.75 L284.02,392.97 L285.22,394.17 L286.43,395.36 L287.64,396.54 L288.85,397.70 L290.05,398.86 L291.26,400.00 L292.47,401.13 L293.68,402.25 L294.88,403.35 L296.09,404.45 L297.30,405.53 L298.50,406.60 L299.71,407.66 L300.92,408.71 L302.13,409.75 L303.33,410.78 L304.54,411.80 L305.75,412.80 L306.96,413.80 L308.16,414.79 L309.37,415.76 L310.58,416.73 L311.79,417.69 L312.99,418.63 L314.20,419.57 L315.41,420.50 L316.62,421.41 L317.82,422.32 L319.03,423.22 L320.24,424.11 L321.45,424.99 L322.65,425.87 L323.86,426.73 L325.07,427.58 L326.27,428.43 L327.48,429.27 L328.69,430.09 L329.90,430.92 L331.10,431.73 L332.31,432.53 L333.52,433.33 L334.73,434.12 L335.93,434.90 L337.14,435.67 L338.35,436.43 L339.56,437.19 L340.76,437.94 L341.97,438.68 L343.18,439.41 L344.39,440.14 L345.59,440.86 L346.80,441.57 L348.01,442.28 L349.21,442.98 L350.42,443.67 L351.63,444.35 L352.84,445.03 L354.04,445.70 L355.25,446.37 L356.46,447.03 L357.67,447.68 L358.87,448.32 L360.08,448.96 L361.29,449.59 L362.50,450.22 L363.70,450.84 L364.91,451.46 L366.12,452.06 L367.33,452.67 L368.53,453.26 L369.74,453.85 L370.95,454.44 L372.16,455.02 L373.36,455.59 L374.57,456.16 L375.78,456.72 L376.98,457.28 L378.19,457.83 L379.40,458.37 L380.61,458.91 L381.81,459.45 L383.02,459.98 L384.23,460.51 L385.44,461.03 L386.64,461.54 L387.85,462.05 L389.06,462.56 L390.27,463.06 L391.47,463.55 L392.68,464.04 L393.89,464.53 L395.10,465.01 L396.30,465.49 L397.51,465.96 L398.72,466.43 L399.93,466.89 L401.13,467.35 L402.34,467.80 L403.55,468.25 L404.75,468.70 L405.96,469.14 L407.17,469.58 L408.38,470.01 L409.58,470.44 L410.79,470.87 L412.00,471.29 L413.21,471.70 L414.41,472.12 L415.62,472.53 L416.83,472.93 L418.04,473.33 L419.24,473.73 L420.45,474.12 L421.66,474.51 L422.87,474.90 L424.07,475.28 L425.28,475.66 L426.49,476.04 L427.69,476.41 L428.90,476.78 L430.11,477.14 L431.32,477.51 L432.52,477.86 L433.73,478.22 L434.94,478.57 L436.15,478.92 L437.35,479.27 L438.56,479.61 L439.77,479.95 L440.98,480.28 L442.18,480.61 L443.39,480.94 L444.60,481.27 L445.81,481.59 L447.01,481.91 L448.22,482.23 L449.43,482.55 L450.64,482.86 L451.84,483.17 L453.05,483.47 L454.26,483.77 L455.46,484.07 L456.67,484.37 L457.88,484.67 L459.09,484.96 L460.29,485.25 L461.50,485.53 L462.71,485.82 L463.92,486.10 L465.12,486.38 L466.33,486.65 L467.54,486.93 L468.75,487.20 L469.95,487.47 L471.16,487.73 L472.37,488.00 L473.58,488.26 L474.78,488.52 L475.99,488.77 L477.20,489.03 L478.41,489.28 L479.61,489.53 L480.82,489.78 L482.03,490.02 L483.23,490.26 L484.44,490.50 L485.65,490.74 L486.86,490.98 L488.06,491.21 L489.27,491.45 L490.48,491.67 L491.69,491.90 L492.89,492.13 L494.10,492.35 L495.31,492.57 L496.52,492.79 L497.72,493.01 L498.93,493.23 L500.14,493.44 L501.35,493.65 L502.55,493.86 L503.76,494.07 L504.97,494.28 L506.17,494.48 L507.38,494.68 L508.59,494.88 L509.80,495.08 L511.00,495.28 L512.21,495.47 L513.42,495.67 L514.63,495.86 L515.83,496.05 L517.04,496.24 L518.25,496.42 L519.46,496.61 L520.66,496.79 L521.87,496.97 L523.08,497.15 L524.29,497.33 L525.49,497.51 L526.70,497.69 L527.91,497.86 L529.12,498.03 L530.32,498.20 L531.53,498.37 L532.74,498.54 L533.94,498.71 L535.15,498.87 L536.36,499.03 L537.57,499.19 L538.77,499.35 L539.98,499.51 L541.19,499.67 L542.40,499.83 L543.60,499.98 L544.81,500.14 L546.02,500.29 L547.23,500.44 L548.43,500.59 L549.64,500.74 L550.85,500.88 L552.06,501.03 L553.26,501.17 L554.47,501.31 L555.68,501.46 L556.89,501.60 L558.09,501.74 L559.30,501.87 L560.51,502.01 L561.71,502.15 L562.92,502.28 L564.13,502.41 L565.34,502.54 L566.54,502.68 L567.75,502.80 L568.96,502.93 L570.17,503.06 L571.37,503.19 L572.58,503.31 L573.79,503.44 L575.00,503.56 L576.20,503.68 L577.41,503.80 L578.62,503.92 L579.83,504.04 L581.03,504.16 L582.24,504.27 L583.45,504.39 L584.65,504.50 L585.86,504.62 L587.07,504.73 L588.28,504.84 L589.48,504.95 L590.69,505.06 L591.90,505.17 L593.11,505.28 L594.31,505.39 L595.52,505.49 L596.73,505.60 L597.94,505.70 L599.14,505.81 L600.35,505.91 L601.56,506.01 L602.77,506.11 L603.97,506.21 L605.18,506.31 L606.39,506.41 L607.60,506.50 L608.80,506.60 L610.01,506.70 L611.22,506.79 L612.42,506.88 L613.63,506.98 L614.84,507.07 L616.05,507.16 L617.25,507.25 L618.46,507.34 L619.67,507.43 L620.88,507.52 L622.08,507.61 L623.29,507.69 L624.50,507.78 L625.71,507.86 L626.91,507.95 L628.12,508.03 L629.33,508.12 L630.54,508.20 L631.74,508.28 L632.95,508.36 L634.16,508.44 L635.36,508.52 L636.57,508.60 L637.78,508.68 L638.99,508.76 L640.19,508.83 L641.40,508.91 L642.61,508.98 L643.82,509.06 L645.02,509.13 L646.23,509.21 L647.44,509.28 L648.65,509.35 L649.85,509.43 L651.06,509.50 L652.27,509.57 L653.48,509.64 L654.68,509.71 L655.89,509.78 L657.10,509.84 L658.31,509.91 L659.51,509.98 L660.72,510.05 L661.93,510.11 L663.13,510.18 L664.34,510.24 L665.55,510.31 L666.76,510.37 L667.96,510.43 L669.17,510.50 L670.38,510.56 L671.59,510.62 L672.79,510.68 L674.00,510.74 L675.21,510.80 L676.42,510.86 L677.62,510.92 L678.83,510.98 L680.04,511.04 L681.25,511.09 L682.45,511.15 L683.66,511.21 L684.87,511.26 L686.08,511.32 L687.28,511.38 L688.49,511.43 L689.70,511.48 L690.90,511.54 L692.11,511.59 L693.32,511.64 L694.53,511.70 L695.73,511.75 L696.94,511.80 L698.15,511.85 L699.36,511.90 L700.56,511.95 L701.77,512.00 L702.98,512.05 L704.19,512.10 L705.39,512.15 L706.60,512.20 L707.81,512.25 L709.02,512.29 L710.22,512.34 L711.43,512.39 L712.64,512.43 L713.84,512.48 L715.05,512.53 L716.26,512.57 L717.47,512.61 L718.67,512.66 L719.88,512.70 L721.09,512.75 L722.30,512.79 L723.50,512.83 L724.71,512.88 L725.92,512.92 L727.13,512.96 L728.33,513.00 L729.54,513.04 L730.75,513.08 L731.96,513.12 L733.16,513.16 L734.37,513.20 L735.58,513.24 L736.79,513.28 L737.99,513.32 L739.20,513.36" stroke="#998b3d" stroke-width="3.2" stroke-dasharray="0.2 7.682" stroke-dashoffset="5.112" stroke-linecap="round" stroke-linejoin="round"/>
<path d="M136.72,73.45 L136.86,74.07 L137.01,74.70 L137.16,75.32" stroke="#998b3d" stroke-width="3.0"/>
</g>
<g stroke="#000" stroke-width="1.6" fill="none">
<line x1="50.95" y1="518.15" x2="50.95" y2="514.25"/><line x1="85.35" y1="518.15" x2="85.35" y2="515.85"/><line x1="119.76" y1="518.15" x2="119.76" y2="515.85"/><line x1="154.16" y1="518.15" x2="154.16" y2="515.85"/><line x1="188.57" y1="518.15" x2="188.57" y2="515.85"/><line x1="222.97" y1="518.15" x2="222.97" y2="514.25"/><line x1="257.38" y1="518.15" x2="257.38" y2="515.85"/><line x1="291.78" y1="518.15" x2="291.78" y2="515.85"/><line x1="326.19" y1="518.15" x2="326.19" y2="515.85"/><line x1="360.59" y1="518.15" x2="360.59" y2="515.85"/><line x1="395.00" y1="518.15" x2="395.00" y2="514.25"/><line x1="429.40" y1="518.15" x2="429.40" y2="515.85"/><line x1="463.81" y1="518.15" x2="463.81" y2="515.85"/><line x1="498.21" y1="518.15" x2="498.21" y2="515.85"/><line x1="532.62" y1="518.15" x2="532.62" y2="515.85"/><line x1="567.02" y1="518.15" x2="567.02" y2="514.25"/><line x1="601.43" y1="518.15" x2="601.43" y2="515.85"/><line x1="635.83" y1="518.15" x2="635.83" y2="515.85"/><line x1="670.24" y1="518.15" x2="670.24" y2="515.85"/><line x1="704.64" y1="518.15" x2="704.64" y2="515.85"/><line x1="739.05" y1="518.15" x2="739.05" y2="514.25"/><line x1="51.00" y1="500.79" x2="53.80" y2="500.79"/><line x1="51.00" y1="483.42" x2="53.80" y2="483.42"/><line x1="51.00" y1="466.06" x2="53.80" y2="466.06"/><line x1="51.00" y1="448.69" x2="53.80" y2="448.69"/><line x1="51.00" y1="431.33" x2="55.00" y2="431.33"/><line x1="51.00" y1="413.97" x2="53.80" y2="413.97"/><line x1="51.00" y1="396.60" x2="53.80" y2="396.60"/><line x1="51.00" y1="379.24" x2="53.80" y2="379.24"/><line x1="51.00" y1="361.87" x2="53.80" y2="361.87"/><line x1="51.00" y1="344.51" x2="55.00" y2="344.51"/><line x1="51.00" y1="327.15" x2="53.80" y2="327.15"/><line x1="51.00" y1="309.78" x2="53.80" y2="309.78"/><line x1="51.00" y1="292.42" x2="53.80" y2="292.42"/><line x1="51.00" y1="275.05" x2="53.80" y2="275.05"/><line x1="51.00" y1="257.69" x2="55.00" y2="257.69"/><line x1="51.00" y1="240.33" x2="53.80" y2="240.33"/><line x1="51.00" y1="222.96" x2="53.80" y2="222.96"/><line x1="51.00" y1="205.60" x2="53.80" y2="205.60"/><line x1="51.00" y1="188.23" x2="53.80" y2="188.23"/><line x1="51.00" y1="170.87" x2="55.00" y2="170.87"/><line x1="51.00" y1="153.51" x2="53.80" y2="153.51"/><line x1="51.00" y1="136.14" x2="53.80" y2="136.14"/><line x1="51.00" y1="118.78" x2="53.80" y2="118.78"/><line x1="51.00" y1="101.41" x2="53.80" y2="101.41"/><line x1="51.00" y1="84.05" x2="55.00" y2="84.05"/>
</g>
<g stroke="#000" fill="none">
<line x1="36.8" y1="518.15" x2="752.9" y2="518.15" stroke-width="1.95"/>
<line x1="51.0" y1="75.1" x2="51.0" y2="519.05" stroke-width="2"/>
</g>
<g font-size="18.7px" stroke="#000" stroke-width="0.3">
<text x="51.15" y="536.9" text-anchor="middle" transform="rotate(0.03 51.0 536.9)">1</text><text x="223.17" y="536.9" text-anchor="middle" transform="rotate(0.03 223.0 536.9)">2</text><text x="395.20" y="536.9" text-anchor="middle" transform="rotate(0.03 395.0 536.9)">3</text><text x="567.23" y="536.9" text-anchor="middle" transform="rotate(0.03 567.0 536.9)">4</text><text x="739.25" y="536.9" text-anchor="middle" transform="rotate(0.03 739.0 536.9)">5</text><text x="47.8" y="436.53" text-anchor="end" transform="rotate(0.03 47.8 436.5)">0.1</text><text x="47.8" y="349.71" text-anchor="end" transform="rotate(0.03 47.8 349.7)">0.2</text><text x="47.8" y="262.89" text-anchor="end" transform="rotate(0.03 47.8 262.9)">0.3</text><text x="47.8" y="176.07" text-anchor="end" transform="rotate(0.03 47.8 176.1)">0.4</text><text x="47.8" y="89.25" text-anchor="end" transform="rotate(0.03 47.8 89.2)">0.5</text>
</g>
<!-- x axis label -->
<g stroke="#000" stroke-width="0.25" font-style="italic">
<text transform="translate(759.6 530.7) rotate(0.03) scale(1.04 1)" font-size="27px">m</text>
<text transform="translate(779.3 537.3) rotate(0.03) scale(1.06 1)" font-size="16.5px">π</text>
<text transform="translate(791.6 530.7) rotate(0.03)" font-size="29px">L</text>
</g>
<!-- y axis label -->
<g font-size="26px" stroke="#000" stroke-width="0.3">
<text transform="translate(10.6 29.2) rotate(0.03) scale(1.07 1)">Δ</text>
<text transform="translate(27.4 29.2) rotate(0.03)" font-style="italic">k</text>
<text transform="translate(43.2 29.2) rotate(0.03)">cot</text>
<text transform="translate(77.6 29.2) rotate(0.03) scale(1.2 1)" font-style="italic">δ</text>
<text transform="translate(34.8 57.6) rotate(0.03) scale(1.09 0.92)" font-style="italic">m</text>
<text transform="translate(54.5 64.4) rotate(0.03) scale(1.11 0.93)" font-size="19px" font-style="italic">π</text>
</g>
<line x1="6.9" y1="33.5" x2="97.1" y2="33.5" stroke="#000" stroke-width="1.6"/>
</svg>
</body></html>
